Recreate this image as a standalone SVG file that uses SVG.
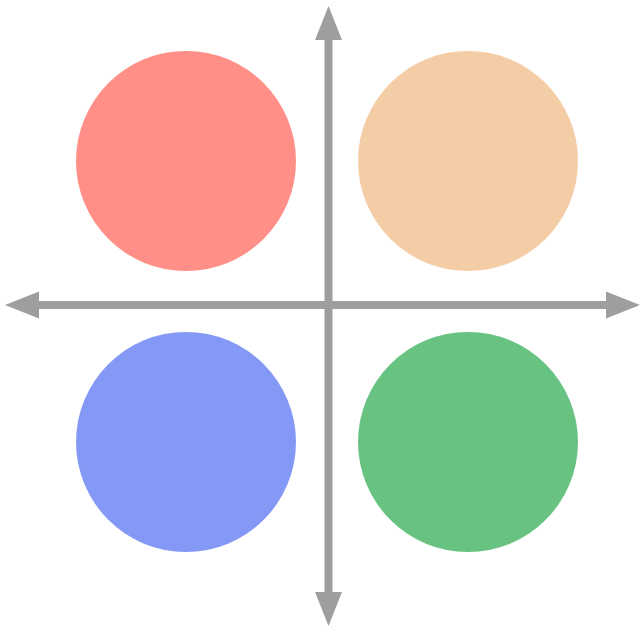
<svg xmlns="http://www.w3.org/2000/svg" width="644" height="631" viewBox="0 0 644 631">
<defs>
<style>
.axis{stroke:#9e9e9e;stroke-width:8;fill:none}
</style>
<marker id="ah" markerUnits="userSpaceOnUse" markerWidth="34" markerHeight="28" refX="14" refY="14" orient="auto-start-reverse" viewBox="0 0 34 28">
<path d="M0,0.5 L34,14 L0,27.5 Z" fill="#9e9e9e"/>
</marker>
</defs>
<rect width="644" height="631" fill="#ffffff"/>
<g id="q1"><circle cx="186" cy="161" r="110" fill="#ff8f87"/></g>
<g id="q2"><circle cx="468" cy="161" r="110" fill="#f4cda7"/></g>
<g id="q3"><circle cx="186" cy="442" r="110" fill="#8499f5"/></g>
<g id="q4"><circle cx="468" cy="442" r="110" fill="#68c382"/></g>
<g id="connectors">
<line class="axis" x1="328.5" y1="26" x2="328.5" y2="606" marker-start="url(#ah)" marker-end="url(#ah)"/>
<line class="axis" x1="25" y1="305" x2="620" y2="305" marker-start="url(#ah)" marker-end="url(#ah)"/>
</g>
</svg>
